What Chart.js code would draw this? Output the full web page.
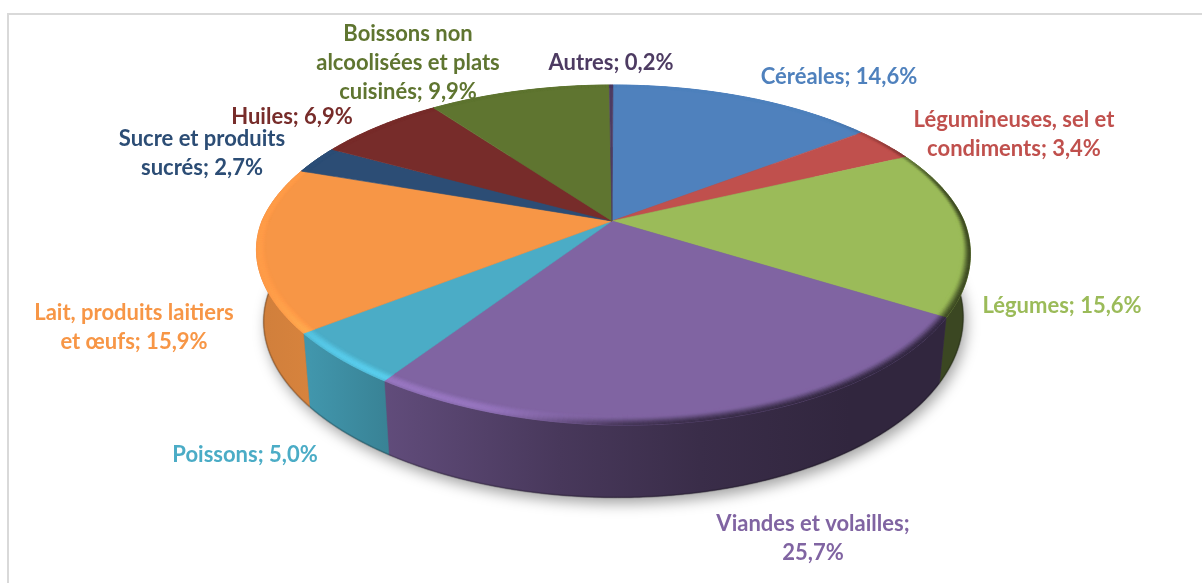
<!DOCTYPE html>
<html lang="fr">
<head>
<meta charset="utf-8">
<style>
html,body{margin:0;padding:0;background:#fff;overflow:hidden}
#frame{position:absolute;left:7px;top:13px;right:0;bottom:0;border-top:2px solid #d9d9d9;border-left:2px solid #d9d9d9}
canvas{position:absolute;left:0;top:0}
</style>
<script src="https://cdn.jsdelivr.net/npm/chart.js@4"></script>
</head>
<body>
<div id="frame"></div>
<canvas id="c" width="1202" height="583"></canvas>
<script>
const categories = ["Céréales","Légumineuses, sel et condiments","Légumes","Viandes et volailles","Poissons","Lait, produits laitiers et œufs","Sucre et produits sucrés","Huiles","Boissons non alcoolisées et plats cuisinés","Autres"];
const values = [14.6,3.4,15.6,25.7,5.0,15.9,2.7,6.9,9.9,0.2];
const colors = ["#4f81bd","#c0504d","#9bbb59","#8064a2","#4bacc6","#f79646","#2c4d75","#772c2a","#5f7530","#4d3b62"];
const labelColors = colors;
// label anchors: centre x, centre y of first line, wrap width
const labelX = [839,1014,1062,813,245,134,202,292,408,611];
const labelY = [77,120,306,524,455,313,139,117,34,63];
const labelWrap = [300,215,300,215,300,215,185,300,195,300];

// perspective of the disc
const VIEW = {cx:613, cy:221, A:351, B:163.2, p:0.2};
const FONT = 'bold 22px Lato';
const LINE = 29;

function project(theta, r){
  const u = r*Math.cos(theta), v = r*Math.sin(theta), d = 1 - VIEW.p*v;
  const x = VIEW.A*u/d, y = VIEW.B*v/d, tilt = Math.max(0,v);
  return [VIEW.cx + x - (x<0?0.025:0.012)*x*tilt, VIEW.cy + y + 0.016*x*tilt];
}
function lower(pt){
  const x = pt[0], y = pt[1];
  return [VIEW.cx + 0.98*(x-VIEW.cx), y + 67.5 + 0.03*(y-257) - 0.012*(x-VIEW.cx)];
}
function rgb(h){return [1,3,5].map(i=>parseInt(h.substr(i,2),16));}
function css(c){return 'rgb('+c.map(v=>Math.round(Math.min(255,v))).join(',')+')';}
function mix(a,b,t){return a.map((v,i)=>v+(b[i]-v)*t);}
function clamp(t){return Math.max(0,Math.min(1,t));}
function smooth(a,b,x){const t=clamp((x-a)/(b-a));return t*t*(3-2*t);}
const shadeStops = [[250,.84],[310,.87],[385,.76],[560,.56],[700,.45],[850,.38],[975,.38]];
function shadeAt(x){
  for(let i=1;i<shadeStops.length;i++){
    if(x<=shadeStops[i][0]){
      const a=shadeStops[i-1],b=shadeStops[i],t=clamp((x-a[0])/(b[0]-a[0]));
      return a[1]+(b[1]-a[1])*t;
    }
  }
  return .38;
}
function arcPts(a0,a1,r){
  const n=Math.max(2,Math.ceil((a1-a0)/0.01)),out=[];
  for(let i=0;i<=n;i++) out.push(project(a0+(a1-a0)*i/n,r));
  return out;
}
function trace(ctx,pts,first){pts.forEach((p,i)=>{(i===0&&first)?ctx.moveTo(p[0],p[1]):ctx.lineTo(p[0],p[1]);});}
function rimRadius(theta,q){
  const w=0.024+0.018*Math.max(0,Math.sin(theta));
  return 1-w*(1-q);
}

const pie3d = {
  id:'pie3d',
  beforeDatasetsDraw(chart){
    const ctx=chart.ctx, arcs=chart.getDatasetMeta(0).data, cols=chart.data.datasets[0].backgroundColor;
    ctx.save();
    // ground shadow
    const ring=arcPts(0,Math.PI*2,1).map(lower);
    ctx.save();
    ctx.shadowColor='rgba(0,0,0,.36)'; ctx.shadowBlur=14; ctx.shadowOffsetX=3; ctx.shadowOffsetY=6;
    ctx.fillStyle='#555'; ctx.beginPath(); trace(ctx,ring,true); ctx.closePath(); ctx.fill();
    ctx.restore();
    // walls
    arcs.forEach((arc,i)=>{
      const base=rgb(cols[i]);
      const a0=Math.max(arc.startAngle,-0.5), a1=Math.min(arc.endAngle,Math.PI+0.5);
      if(a1<=a0) return;
      const top=arcPts(a0,a1,1), bot=top.map(lower).reverse();
      const g=ctx.createLinearGradient(250,0,975,0);
      shadeStops.forEach(s=>g.addColorStop((s[0]-250)/725,css(base.map(v=>v*s[1]))));
      ctx.fillStyle=g; ctx.strokeStyle=g; ctx.lineWidth=.5;
      ctx.beginPath(); trace(ctx,top,true); trace(ctx,bot,false); ctx.closePath(); ctx.fill(); ctx.stroke();
      ctx.strokeStyle='rgba(0,0,0,.18)'; ctx.lineWidth=2;
      ctx.beginPath(); trace(ctx,bot,true); ctx.stroke();
    });
    // top faces
    const apex=[612,VIEW.cy];
    arcs.forEach((arc,i)=>{
      ctx.fillStyle=cols[i]; ctx.strokeStyle=cols[i]; ctx.lineWidth=.6;
      ctx.beginPath(); ctx.moveTo(apex[0],apex[1]);
      trace(ctx,arcPts(arc.startAngle,arc.endAngle,1),false);
      ctx.closePath(); ctx.fill(); ctx.stroke();
    });
    // rounded rim
    const levels=10;
    arcs.forEach((arc,i)=>{
      const base=rgb(cols[i]);
      const n=Math.max(1,Math.ceil((arc.endAngle-arc.startAngle)/0.012));
      for(let s=0;s<n;s++){
        const t0=arc.startAngle+(arc.endAngle-arc.startAngle)*s/n, t1=arc.startAngle+(arc.endAngle-arc.startAngle)*(s+1)/n;
        const mid=project((t0+t1)/2,1), v=Math.sin((t0+t1)/2);
        const lit=(1-smooth(440,700,mid[0]))*smooth(-.85,-.1,v)*(0.045+0.15*smooth(.35,.8,v));
        const darkW=smooth(470,660,mid[0])*smooth(-.8,-.1,v);
        const wall=base.map(c=>c*shadeAt(mid[0]));
        for(let k=0;k<levels;k++){
          const q=(k+.5)/levels;
          const bump=smooth(0,.7,q)*(1-.45*smooth(.8,1,q));
          let c=base.map(x=>x*(1+lit*bump));
          c=mix(c,wall,darkW*smooth(.15,1,q));
          const q0=k/levels,q1=(k+1)/levels;
          const a=project(t0,rimRadius(t0,q0)),b=project(t1,rimRadius(t1,q0)),d=project(t1,rimRadius(t1,q1)),e=project(t0,rimRadius(t0,q1));
          ctx.fillStyle=css(c); ctx.strokeStyle=css(c); ctx.lineWidth=.5;
          ctx.beginPath(); ctx.moveTo(a[0],a[1]); ctx.lineTo(b[0],b[1]); ctx.lineTo(d[0],d[1]); ctx.lineTo(e[0],e[1]); ctx.closePath(); ctx.fill(); ctx.stroke();
        }
      }
    });
    ctx.restore();
    return false;
  },
  afterDraw(chart){
    const ctx=chart.ctx;
    ctx.save();
    ctx.font=FONT; ctx.textAlign='center'; ctx.textBaseline='middle';
    categories.forEach((name,i)=>{
      const words=(name+'; '+values[i].toFixed(1).replace('.',',')+'%').split(' ');
      const lines=[]; let cur='';
      words.forEach(w=>{
        const t=cur?cur+' '+w:w;
        if(ctx.measureText(t).width>labelWrap[i]&&cur){lines.push(cur);cur=w;} else cur=t;
      });
      lines.push(cur);
      ctx.fillStyle=labelColors[i];
      lines.forEach((l,k)=>ctx.fillText(l,labelX[i],labelY[i]+k*LINE));
    });
    ctx.restore();
  }
};

new Chart(document.getElementById('c'),{
  type:'pie',
  data:{labels:categories,datasets:[{data:values,backgroundColor:colors,borderWidth:0}]},
  options:{
    responsive:false,animation:false,
    plugins:{legend:{display:false},tooltip:{enabled:false}},
    events:[]
  },
  plugins:[pie3d]
});
</script>
</body>
</html>
